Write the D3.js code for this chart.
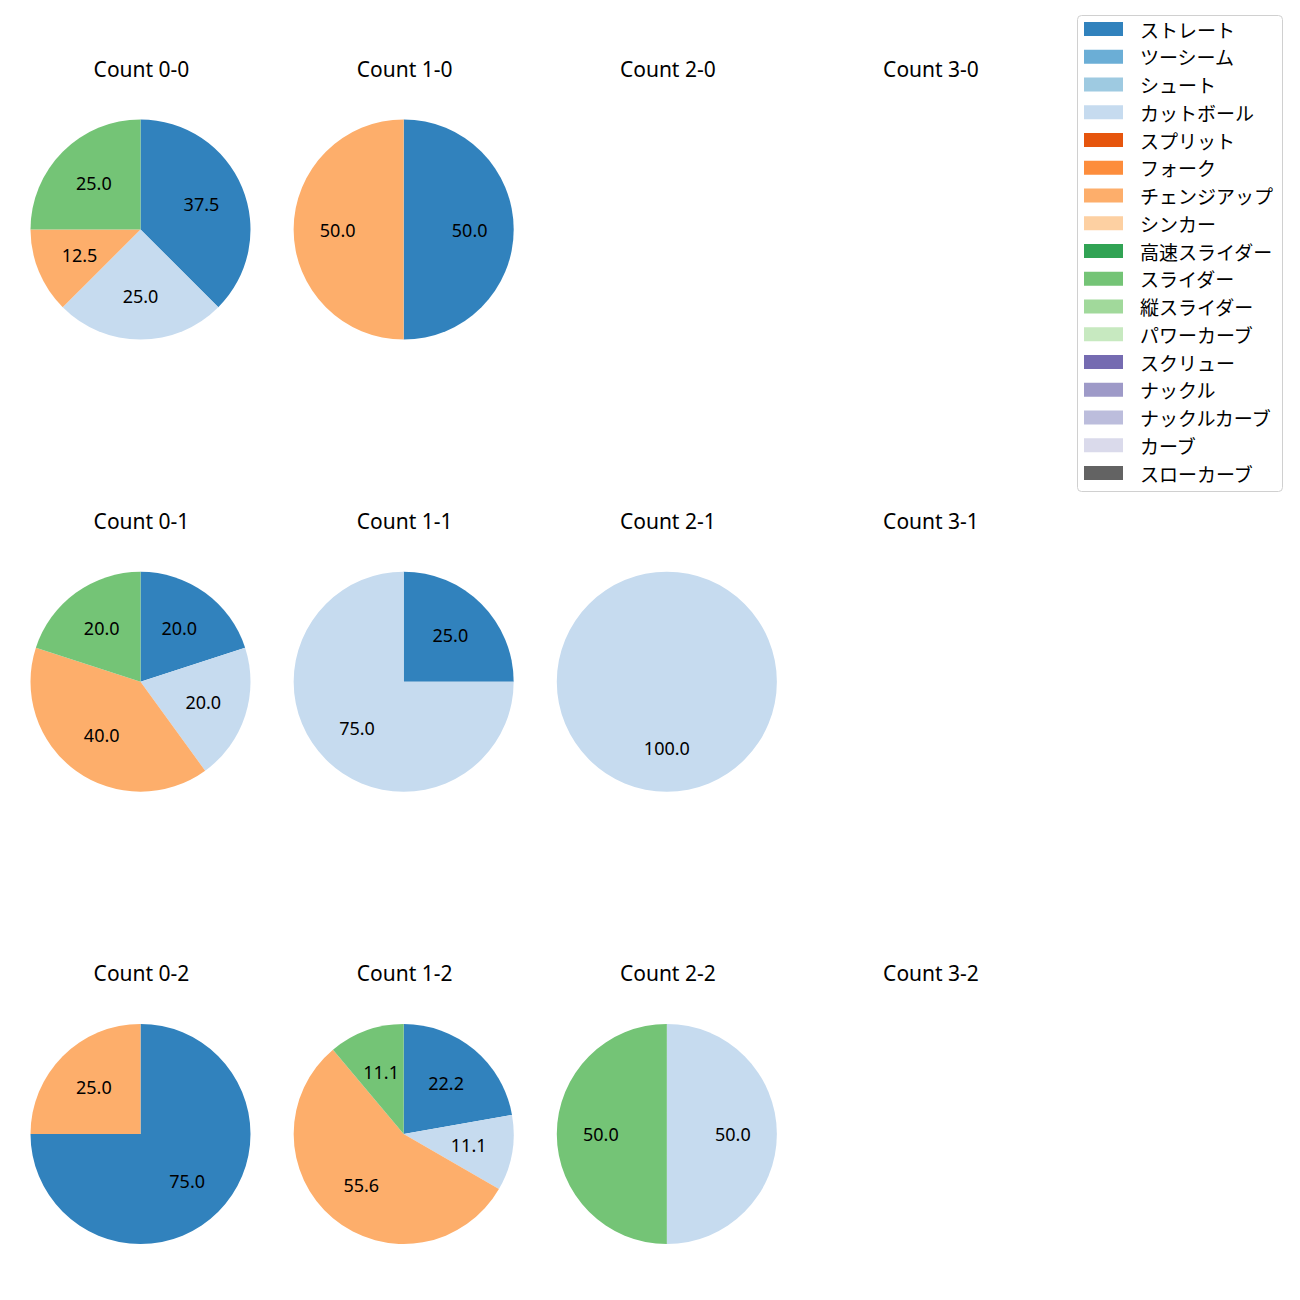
<!DOCTYPE html>
<html><head><meta charset="utf-8">
<script src="https://cdn.jsdelivr.net/npm/d3@7"></script>
<style>body{margin:0;background:#fff}svg{display:block}</style>
</head><body>
<script>
const pitchTypes = ["ストレート","ツーシーム","シュート","カットボール","スプリット","フォーク","チェンジアップ","シンカー","高速スライダー","スライダー","縦スライダー","パワーカーブ","スクリュー","ナックル","ナックルカーブ","カーブ","スローカーブ"];
const pitchColors = ["#3182bd","#6baed6","#9ecae1","#c6dbef","#e6550d","#fd8d3c","#fdae6b","#fdd0a2","#31a354","#74c476","#a1d99b","#c7e9c0","#756bb1","#9e9ac8","#bcbddc","#dadaeb","#636363"];
const countLabels = [["Count 0-0","Count 1-0","Count 2-0","Count 3-0"],["Count 0-1","Count 1-1","Count 2-1","Count 3-1"],["Count 0-2","Count 1-2","Count 2-2","Count 3-2"]];
// pitch counts per ball-strike count, in pitchTypes order
const c00 = [3,0,0,2,0,0,1,0,0,2,0,0,0,0,0,0,0];
const c10 = [1,0,0,0,0,0,1,0,0,0,0,0,0,0,0,0,0];
const c20 = [];
const c30 = [];
const c01 = [1,0,0,1,0,0,2,0,0,1,0,0,0,0,0,0,0];
const c11 = [1,0,0,3,0,0,0,0,0,0,0,0,0,0,0,0,0];
const c21 = [0,0,0,1,0,0,0,0,0,0,0,0,0,0,0,0,0];
const c31 = [];
const c02 = [3,0,0,0,0,0,1,0,0,0,0,0,0,0,0,0,0];
const c12 = [2,0,0,1,0,0,5,0,0,1,0,0,0,0,0,0,0];
const c22 = [0,0,0,1,0,0,0,0,0,1,0,0,0,0,0,0,0];
const c32 = [];
const grid = [[c00,c10,c20,c30],[c01,c11,c21,c31],[c02,c12,c22,c32]];

const W = 1300, H = 1300;
const svg = d3.select("body").append("svg").attr("width", W).attr("height", H);
const latin = "'Noto Sans', 'Noto Sans CJK JP', sans-serif";
const cjk = "'Noto Sans CJK JP', sans-serif";

const colX = d3.scalePoint().domain([0,1,2,3]).range([140.5, 930]);
const rowY = d3.scalePoint().domain([0,1,2]).range([229.5, 1134]);
const R = 110;
const color = d3.scaleOrdinal().domain(pitchTypes).range(pitchColors);

const pie = d3.pie().sort(null).value(d => d.v).startAngle(0).endAngle(2*Math.PI);
const arc = d3.arc().innerRadius(0).outerRadius(R);
const labelArc = d3.arc().innerRadius(R*0.6).outerRadius(R*0.6);

grid.forEach((row, ri) => {
  row.forEach((vals, ci) => {
    const cx = colX(ci), cy = rowY(ri);
    svg.append("text").attr("x", cx + 1).attr("y", cy - 153)
      .attr("text-anchor", "middle")
      .attr("font-family", latin).attr("font-size", 21)
      .attr("fill", "#000").text(countLabels[ri][ci]);
    const data = vals.map((v, i) => ({v, name: pitchTypes[i]})).filter(d => d.v > 0);
    if (!data.length) return;
    const total = d3.sum(data, d => d.v);
    const g = svg.append("g").attr("transform", `translate(${cx},${cy})`);
    const arcs = pie(data);
    g.selectAll("path").data(arcs).join("path")
      .attr("d", arc).attr("fill", d => color(d.data.name));
    g.selectAll("text").data(arcs).join("text")
      .attr("transform", d => `translate(${labelArc.centroid(d)})`)
      .attr("text-anchor", "middle").attr("dominant-baseline", "central")
      .attr("font-family", latin).attr("font-size", 18).attr("fill", "#000")
      .text(d => (d.data.v / total * 100).toFixed(1));
  });
});

// legend
const lg = svg.append("g");
const ly = d3.scaleLinear().domain([0, pitchTypes.length - 1]).range([29, 473]);
lg.append("rect").attr("x", 1077.5).attr("y", 15.5).attr("width", 205).attr("height", 476)
  .attr("rx", 4).attr("fill", "#fff").attr("stroke", "#d0d0d0").attr("stroke-width", 1);
pitchTypes.forEach((p, i) => {
  lg.append("rect").attr("x", 1084).attr("y", ly(i) - 7).attr("width", 39).attr("height", 14)
    .attr("fill", color(p));
  lg.append("text").attr("x", 1140).attr("y", ly(i)).attr("dominant-baseline", "central")
    .attr("font-family", cjk).attr("font-size", 19).attr("fill", "#000").text(p);
});
</script>
</body></html>
